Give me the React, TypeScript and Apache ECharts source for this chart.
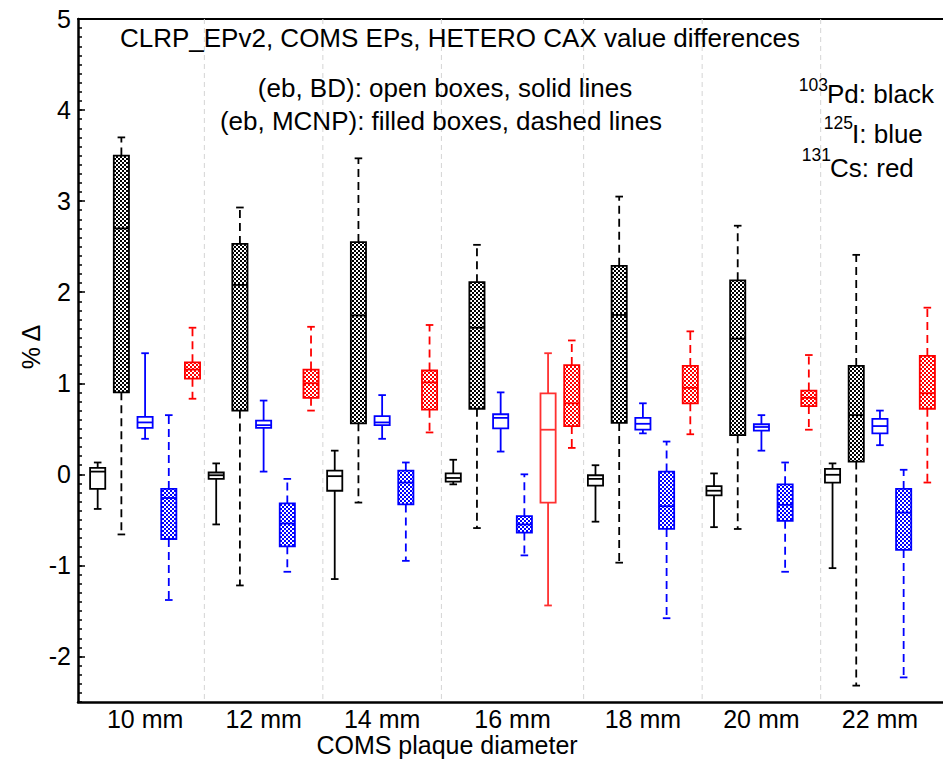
import React, { useEffect, useRef } from 'react';
import * as echarts from 'echarts';

// Plaque diameters (x categories)
const diameters = ['10 mm', '12 mm', '14 mm', '16 mm', '18 mm', '20 mm', '22 mm'];

// Box statistics per diameter: [min, q1, median, q3, max] (% difference)
const pdBD = [
  [-0.38, -0.16, 0.03, 0.07, 0.13],
  [-0.55, -0.05, -0.01, 0.02, 0.12],
  [-1.15, -0.18, -0.02, 0.04, 0.26],
  [-0.11, -0.08, -0.04, 0.01, 0.16],
  [-0.52, -0.125, -0.05, -0.01, 0.1],
  [-0.58, -0.23, -0.18, -0.13, 0.01],
  [-1.03, -0.09, -0.005, 0.06, 0.12],
];
const pdMCNP = [
  [-0.66, 0.9, 2.7, 3.5, 3.7],
  [-1.22, 0.7, 2.08, 2.53, 2.93],
  [-0.31, 0.56, 1.745, 2.55, 3.47],
  [-0.59, 0.72, 1.61, 2.11, 2.52],
  [-0.97, 0.565, 1.75, 2.29, 3.05],
  [-0.6, 0.43, 1.49, 2.13, 2.73],
  [-2.32, 0.14, 0.65, 1.19, 2.41],
];
const iBD = [
  [0.39, 0.51, 0.57, 0.63, 1.33],
  [0.03, 0.51, 0.54, 0.59, 0.81],
  [0.39, 0.54, 0.57, 0.64, 0.87],
  [0.25, 0.505, 0.62, 0.66, 0.9],
  [0.45, 0.49, 0.555, 0.62, 0.78],
  [0.26, 0.48, 0.52, 0.55, 0.65],
  [0.32, 0.45, 0.53, 0.61, 0.7],
];
const iMCNP = [
  [-1.38, -0.71, -0.26, -0.16, 0.65],
  [-1.07, -0.79, -0.54, -0.32, -0.05],
  [-0.95, -0.33, -0.09, 0.04, 0.13],
  [-0.89, -0.64, -0.55, -0.46, 0.0],
  [-1.58, -0.6, -0.35, 0.03, 0.36],
  [-1.07, -0.51, -0.335, -0.11, 0.13],
  [-2.23, -0.83, -0.42, -0.16, 0.05],
];
const csBD = [
  null,
  null,
  null,
  [-1.44, -0.31, 0.49, 0.89, 1.33],
  null,
  null,
  null,
];
const csMCNP = [
  [0.83, 1.05, 1.15, 1.23, 1.61],
  [0.7, 0.84, 1.0, 1.15, 1.62],
  [0.46, 0.71, 1.01, 1.14, 1.64],
  [0.29, 0.53, 0.78, 1.2, 1.47],
  [0.44, 0.78, 0.95, 1.19, 1.57],
  [0.49, 0.75, 0.84, 0.92, 1.31],
  [-0.09, 0.72, 0.89, 1.3, 1.83],
];

const yTickValues = [-2, -1, 0, 1, 2, 3, 4, 5];

const FONT = '"Liberation Sans", Arial, Helvetica, sans-serif';

type Def = { name: string; data: (number[] | null)[]; color: string; filled: boolean };

const defs: Def[] = [
  { name: 'Pd BD', data: pdBD, color: '#000000', filled: false },
  { name: 'Pd MCNP', data: pdMCNP, color: '#000000', filled: true },
  { name: 'I BD', data: iBD, color: '#0000ff', filled: false },
  { name: 'I MCNP', data: iMCNP, color: '#0000ff', filled: true },
  { name: 'Cs BD', data: csBD, color: '#ff3030', filled: false },
  { name: 'Cs MCNP', data: csMCNP, color: '#ff0000', filled: true },
];

function makePattern(color: string) {
  const c = document.createElement('canvas');
  c.width = 4;
  c.height = 4;
  const ctx = c.getContext('2d')!;
  ctx.fillStyle = '#ffffff';
  ctx.fillRect(0, 0, 4, 4);
  ctx.fillStyle = color;
  ctx.fillRect(0, 0, 2, 2);
  ctx.fillRect(2, 2, 2, 2);
  return { image: c.toDataURL(), repeat: 'repeat', imageWidth: 4, imageHeight: 4 };
}

export default function App() {
  const ref = useRef<HTMLDivElement>(null);

  useEffect(() => {
    document.body.style.margin = '0';
    if (!ref.current) return;
    const chart = echarts.init(ref.current, undefined, { renderer: 'svg' });

    // assign sequential box slots
    let slot = 0;
    const seriesData: number[][][] = defs.map(() => []);
    const groupCenters: number[] = [];
    const separators: number[] = [];
    diameters.forEach((_, g) => {
      const start = slot;
      defs.forEach((d, si) => {
        const v = d.data[g];
        if (v) {
          seriesData[si].push([slot, ...v]);
          slot++;
        }
      });
      groupCenters.push((start + slot - 1) / 2);
      if (g < diameters.length - 1) separators.push(slot - 0.5);
    });

    const makeRender = (color: string, filled: boolean) => {
      const pattern = filled ? makePattern(color) : null;
      return (params: any, api: any) => {
        const x = api.value(0);
        const mn = api.value(1);
        const q1 = api.value(2);
        const md = api.value(3);
        const q3 = api.value(4);
        const mx = api.value(5);
        const pMin = api.coord([x, mn]);
        const pQ1 = api.coord([x, q1]);
        const pMd = api.coord([x, md]);
        const pQ3 = api.coord([x, q3]);
        const pMax = api.coord([x, mx]);
        const band = api.size([1, 0])[0];
        const bw = band * 0.64;
        const cw = band * 0.32;
        const cx = pMin[0];
        const lw = 1.8;
        const whisk = { stroke: color, lineWidth: lw, lineDash: filled ? [8, 5] : null, fill: null };
        const solid = { stroke: color, lineWidth: lw, fill: null };
        return {
          type: 'group',
          children: [
            { type: 'line', shape: { x1: cx, y1: pQ3[1], x2: cx, y2: pMax[1] }, style: whisk },
            { type: 'line', shape: { x1: cx, y1: pQ1[1], x2: cx, y2: pMin[1] }, style: whisk },
            { type: 'line', shape: { x1: cx - cw / 2, y1: pMax[1], x2: cx + cw / 2, y2: pMax[1] }, style: solid },
            { type: 'line', shape: { x1: cx - cw / 2, y1: pMin[1], x2: cx + cw / 2, y2: pMin[1] }, style: solid },
            {
              type: 'rect',
              shape: { x: cx - bw / 2, y: pQ3[1], width: bw, height: pQ1[1] - pQ3[1] },
              style: { fill: pattern ? pattern : 'none', stroke: color, lineWidth: lw },
            },
            { type: 'line', shape: { x1: cx - bw / 2, y1: pMd[1], x2: cx + bw / 2, y2: pMd[1] }, style: solid },
          ],
        };
      };
    };

    const sepSeries = {
      type: 'custom',
      name: 'separators',
      silent: true,
      z: 1,
      data: separators.map((s) => [s]),
      encode: { x: 0 },
      renderItem: (params: any, api: any) => {
        const x = api.value(0);
        const top = api.coord([x, 5]);
        const bot = api.coord([x, -2.5]);
        return {
          type: 'line',
          shape: { x1: top[0], y1: top[1], x2: bot[0], y2: bot[1] },
          style: { stroke: '#d4d4d4', lineWidth: 1, lineDash: [5, 4] },
        };
      },
    };

    const boxSeries = defs.map((d, i) => ({
      type: 'custom',
      name: d.name,
      z: 2,
      data: seriesData[i],
      encode: { x: 0, y: [1, 2, 3, 4, 5] },
      renderItem: makeRender(d.color, d.filled),
    }));

    const txt = (text: string, x: number, y: number, extra: any = {}) => ({
      type: 'text',
      x,
      y,
      silent: true,
      z: 10,
      ...extra,
      style: {
        text,
        fontSize: 26,
        fontFamily: FONT,
        fill: '#000',
        align: 'center',
        verticalAlign: 'middle',
        ...(extra.style || {}),
      },
    });

    chart.setOption({
      animation: false,
      backgroundColor: '#ffffff',
      grid: { left: 78, right: 0, top: 19, bottom: 59, containLabel: false },
      xAxis: [
        {
          type: 'value',
          min: -0.83,
          max: 35.66,
          position: 'bottom',
          axisLine: { show: true, onZero: false, lineStyle: { color: '#000', width: 2.5 } },
          axisTick: { show: false },
          splitLine: { show: false },
          axisLabel: {
            customValues: groupCenters,
            formatter: (v: number) => {
              const i = groupCenters.findIndex((c) => Math.abs(c - v) < 1e-6);
              return i >= 0 ? diameters[i] : '';
            },
            fontSize: 25,
            fontFamily: FONT,
            color: '#000',
            margin: 4,
          },
        },
        {
          type: 'value',
          min: -0.83,
          max: 35.66,
          position: 'top',
          axisLine: { show: true, onZero: false, lineStyle: { color: '#000', width: 2 } },
          axisTick: { show: false },
          axisLabel: { show: false },
          splitLine: { show: false },
        },
      ],
      yAxis: [
        {
          type: 'value',
          min: -2.5,
          max: 5,
          position: 'left',
          axisLine: { show: true, onZero: false, lineStyle: { color: '#000', width: 2.5 } },
          axisTick: { show: true, inside: true, length: 7, customValues: yTickValues, lineStyle: { color: '#000', width: 1.5 } },
          axisLabel: {
            customValues: yTickValues,
            fontSize: 25,
            fontFamily: FONT,
            color: '#000',
            margin: 7,
          },
          splitLine: { show: false },
        },
        {
          type: 'value',
          min: -2.5,
          max: 5,
          interval: 0.1,
          position: 'left',
          offset: 0,
          axisLine: { show: false, onZero: false },
          axisTick: { show: true, inside: true, length: 4, lineStyle: { color: '#000', width: 1.5 } },
          axisLabel: { show: false },
          splitLine: { show: false },
        },
      ],
      series: [sepSeries, ...boxSeries],
      graphic: [
        txt('CLRP_EPv2, COMS EPs, HETERO CAX value differences', 460, 38),
        txt('(eb, BD): open boxes, solid lines', 445, 88),
        txt('(eb, MCNP): filled boxes, dashed lines', 441, 121),
        txt('103', 828, 76, { style: { fontSize: 17.5, align: 'right', verticalAlign: 'top' } }),
        txt('Pd: black', 827, 94, { style: { align: 'left' } }),
        txt('125', 853, 114, { style: { fontSize: 17.5, align: 'right', verticalAlign: 'top' } }),
        txt('I: blue', 852, 134, { style: { align: 'left' } }),
        txt('131', 831, 146, { style: { fontSize: 17.5, align: 'right', verticalAlign: 'top' } }),
        txt('Cs: red', 830, 168, { style: { align: 'left' } }),
        txt('% Δ', 31, 347, { rotation: Math.PI / 2, style: { fontSize: 25 } }),
        txt('COMS plaque diameter', 447, 745, { style: { fontSize: 25 } }),
      ],
    });

    return () => chart.dispose();
  }, []);

  return <div ref={ref} style={{ width: 943, height: 761 }} />;
}
